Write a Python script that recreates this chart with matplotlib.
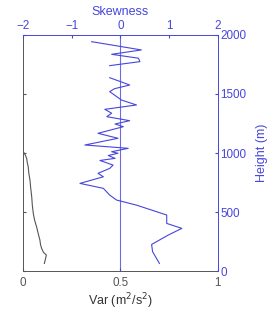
import matplotlib
matplotlib.use("Agg")
import matplotlib.pyplot as plt
import numpy as np

plt.rcParams['font.family'] = ['Liberation Sans', 'DejaVu Sans']

# variance profile (grey, bottom axis)
var_h = [1011, 990, 955, 920, 884, 830, 771, 700, 630, 560, 489, 430, 375, 320, 263, 225, 192, 160, 136, 100, 65]
var_v = [0.002, 0.010, 0.019, 0.022, 0.027, 0.030, 0.036, 0.040, 0.045, 0.048, 0.053, 0.060, 0.070, 0.078, 0.087, 0.090, 0.096, 0.105, 0.120, 0.115, 0.110]

# skewness profile (blue, top axis); nan = missing level
skew_h = [1943, 1873, 1836, 1803, 1774, 1740, np.nan, 1638, 1576, 1545, 1520, 1449, 1407, 1370, 1337,
          1308, 1274, 1246, 1223, 1167, 1125, 1068, 1040, 1011, 998, 979, 955, 937, 898, 870, 828,
          799, 743, 701, 644, 602, 559, 475, 404, 362, 305, 226, 165, 65]
skew_v = [-0.59, 0.43, -0.18, 0.37, 0.40, -0.22, np.nan, -0.22, 0.19, -0.12, -0.22, 0.02, 0.33, -0.32, -0.18,
          -0.28, 0.19, -0.11, 0.06, -0.46, -0.05, -0.73, 0.16, -0.18, -0.05, -0.25, -0.11, -0.42, -0.15, -0.22, -0.46,
          -0.35, -0.83, -0.35, -0.22, -0.08, 0.33, 0.95, 0.95, 1.26, 0.98, 0.64, 0.66, 0.80]

blue = '#4646dc'
grey = '#555555'

fig = plt.figure(figsize=(2.7, 3.12), dpi=100)
pos = [0.085, 0.131, 0.722, 0.757]

ax = fig.add_axes(pos)
ax.plot(var_v, var_h, color=grey, lw=0.8)
ax.axvline(0.5, color=blue, lw=0.8, alpha=0.8)
ax.set_xlim(0, 1)
ax.set_ylim(0, 2000)
ax.set_xticks([0, 0.5, 1])
ax.set_xticklabels(['0', '0.5', '1'])
ax.set_yticks([0, 500, 1000, 1500, 2000])
ax.tick_params(direction='in', length=2.5, colors=grey, labelsize=8.4, labelleft=False, pad=4)
ax.set_xlabel('Var (m$^2$/s$^2$)', color='#333333', fontsize=9, labelpad=2)
for s in ['top', 'right']:
    ax.spines[s].set_visible(False)
for s in ['left', 'bottom']:
    ax.spines[s].set_color(grey)
    ax.spines[s].set_linewidth(0.7)

ax2 = fig.add_axes(pos, frameon=True)
ax2.patch.set_visible(False)
ax2.plot(skew_v, skew_h, color=blue, lw=0.8)
ax2.set_xlim(-2, 2)
ax2.set_ylim(0, 2000)
ax2.xaxis.tick_top()
ax2.xaxis.set_label_position('top')
ax2.yaxis.tick_right()
ax2.yaxis.set_label_position('right')
ax2.set_xticks([-2, -1, 0, 1, 2])
ax2.set_yticks([0, 500, 1000, 1500, 2000])
ax2.tick_params(direction='in', length=2.5, colors=blue, labelsize=8.4, pad=2)
ax2.set_xlabel('Skewness', color=blue, fontsize=9, labelpad=4)
ax2.set_ylabel('Height (m)', color=blue, fontsize=9, labelpad=7)
for s in ['left', 'bottom']:
    ax2.spines[s].set_visible(False)
for s in ['top', 'right']:
    ax2.spines[s].set_color(blue)
    ax2.spines[s].set_linewidth(0.7)

fig.savefig('out.png', dpi=100)
